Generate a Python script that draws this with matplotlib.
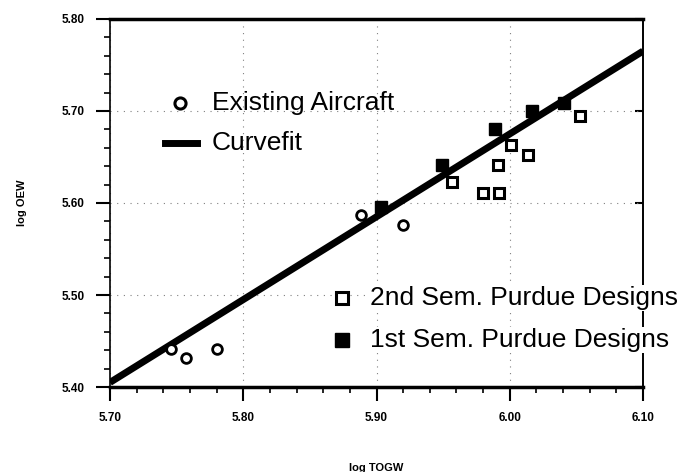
import numpy as np
import matplotlib.pyplot as plt
from matplotlib.ticker import MultipleLocator

# log TOGW / log OEW
exist_x = [5.746, 5.757, 5.780, 5.888, 5.920]
exist_y = [5.441, 5.432, 5.441, 5.587, 5.576]
sem2_x = [5.957, 5.980, 5.992, 5.991, 6.001, 6.014, 6.053]
sem2_y = [5.623, 5.611, 5.611, 5.641, 5.663, 5.652, 5.695]
sem1_x = [5.903, 5.949, 5.989, 6.017, 6.041]
sem1_y = [5.596, 5.641, 5.680, 5.700, 5.709]
fit_x = [5.70, 6.10]
fit_y = [5.405, 5.765]

plt.rcParams['font.family'] = ['Liberation Sans', 'DejaVu Sans']

fig = plt.figure(figsize=(6.79, 4.72), dpi=100)
ax = fig.add_axes([0.162, 0.180, 0.785, 0.780])

ax.plot(fit_x, fit_y, color='black', lw=5, solid_capstyle='butt', zorder=3)
ax.plot(exist_x, exist_y, 'o', ms=7, mfc='white', mec='black', mew=2, zorder=4)
ax.plot(sem2_x, sem2_y, 's', ms=6.5, mfc='white', mec='black', mew=2.2, zorder=4)
ax.plot(sem1_x, sem1_y, 's', ms=9, mfc='black', mec='black', zorder=4)

ax.set_xlim(5.70, 6.10)
ax.set_ylim(5.40, 5.80)
ax.xaxis.set_minor_locator(MultipleLocator(0.02))
ax.yaxis.set_minor_locator(MultipleLocator(0.02))
ax.set_xticks([5.70, 5.80, 5.90, 6.00, 6.10])
ax.set_xticklabels(['5.70', '5.80', '5.90', '6.00', '6.10'], fontsize=8.5, fontweight='bold')
ax.set_yticks([5.40, 5.50, 5.60, 5.70, 5.80])
ax.set_yticklabels(['5.40', '5.50', '5.60', '5.70', '5.80'], fontsize=8.5, fontweight='bold')
ax.tick_params(which='major', direction='out', length=10, width=1.5, pad=8)
ax.tick_params(which='minor', direction='out', length=4, width=1.2)
ax.grid(True, which='major', color='gray', lw=0.8, ls=(0, (1, 5)))

sec = ax.secondary_yaxis('right')
sec.set_yticks([5.40, 5.50, 5.60, 5.70, 5.80])
sec.set_yticklabels([])
sec.tick_params(direction='in', length=6, width=1.5)
sec.spines['right'].set_linewidth(1.2)

for s in ['top', 'bottom']:
    ax.spines[s].set_linewidth(2.5)
for s in ['left', 'right']:
    ax.spines[s].set_linewidth(1.2)

ax.set_xlabel('log TOGW', fontsize=8, fontweight='bold', labelpad=28)
ax.set_ylabel('log OEW', fontsize=8, fontweight='bold', labelpad=25)

# legend drawn by hand, like the original
def fx(px):
    return px / 679
def fy(py):
    return 1 - py / 472

fs = 19
ax.plot([fx(180)], [fy(103)], 'o', ms=8, mfc='white', mec='black', mew=2.2,
        transform=fig.transFigure, clip_on=False)
fig.text(fx(212), fy(103), 'Existing Aircraft', fontsize=fs, ha='left', va='center')
ax.plot([fx(165), fx(197)], [fy(143), fy(143)], color='black', lw=5,
        transform=fig.transFigure, clip_on=False)
fig.text(fx(212), fy(143), 'Curvefit', fontsize=fs, ha='left', va='center')
ax.plot([fx(342)], [fy(298)], 's', ms=8, mfc='white', mec='black', mew=2.2,
        transform=fig.transFigure, clip_on=False, zorder=6)
fig.text(fx(370), fy(298), '2nd Sem. Purdue Designs', fontsize=fs, ha='left', va='center',
         bbox=dict(fc='white', ec='none', pad=1), zorder=5)
ax.plot([fx(342)], [fy(340)], 's', ms=10, mfc='black', mec='black',
        transform=fig.transFigure, clip_on=False, zorder=6)
fig.text(fx(370), fy(340), '1st Sem. Purdue Designs', fontsize=fs, ha='left', va='center',
         bbox=dict(fc='white', ec='none', pad=1), zorder=5)

fig.savefig('out.png', dpi=100)
